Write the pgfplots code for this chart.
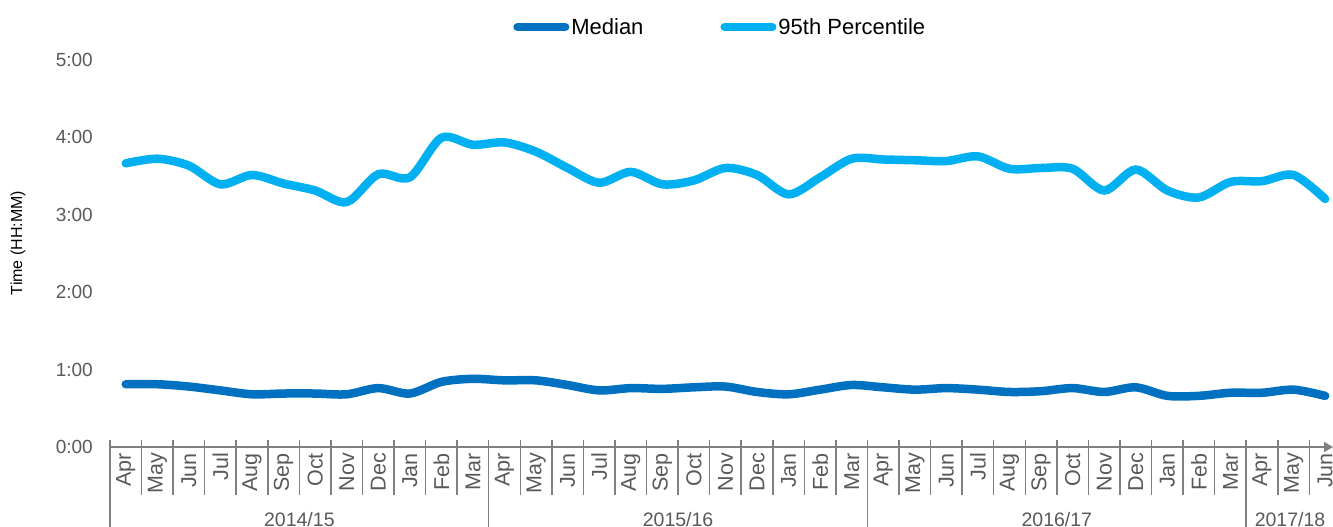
\documentclass[border=0pt]{standalone}
\usepackage{pgfplots}
\pgfplotsset{compat=1.18}
\usepackage{pgfplotstable}
\usepackage{fontspec}
\setmainfont{Liberation Sans}
\usetikzlibrary{arrows.meta}
\definecolor{medblue}{RGB}{0,112,192}
\definecolor{pctblue}{RGB}{0,176,240}
\definecolor{axgray}{RGB}{128,128,128}
\definecolor{txtgray}{RGB}{89,89,89}

\pgfplotstableread{
x p95 med
0 3.66 0.81
1 3.72 0.81
2 3.63 0.78
3 3.39 0.73
4 3.51 0.68
5 3.40 0.69
6 3.31 0.69
7 3.16 0.68
8 3.52 0.76
9 3.48 0.69
10 3.99 0.84
11 3.90 0.88
12 3.93 0.86
13 3.81 0.86
14 3.60 0.80
15 3.41 0.73
16 3.55 0.76
17 3.39 0.75
18 3.44 0.77
19 3.60 0.78
20 3.51 0.71
21 3.26 0.68
22 3.48 0.74
23 3.72 0.80
24 3.71 0.77
25 3.70 0.74
26 3.69 0.76
27 3.75 0.74
28 3.59 0.71
29 3.60 0.72
30 3.59 0.76
31 3.31 0.71
32 3.58 0.77
33 3.31 0.66
34 3.22 0.66
35 3.42 0.70
36 3.43 0.70
37 3.51 0.74
38 3.20 0.66
}\datatable

\begin{document}
\begin{tikzpicture}
\path[use as bounding box] (-110bp,-80bp) rectangle (1223bp,447bp);
\begin{axis}[
  at={(0,0)}, anchor=south west,
  scale only axis, width=1223bp, height=387.5bp,
  xmin=-0.5, xmax=38.25, ymin=0, ymax=5,
  clip=false,
  axis x line*=bottom, axis y line*=left,
  axis line style={draw=none},
  major tick length=0pt,
  xtick={0,...,38},
  xticklabels={Apr,May,Jun,Jul,Aug,Sep,Oct,Nov,Dec,Jan,Feb,Mar,Apr,May,Jun,Jul,Aug,Sep,Oct,Nov,Dec,Jan,Feb,Mar,Apr,May,Jun,Jul,Aug,Sep,Oct,Nov,Dec,Jan,Feb,Mar,Apr,May,Jun},
  xticklabel style={rotate=90, anchor=east, text=txtgray, font=\fontsize{21.5bp}{24bp}\selectfont, inner sep=0pt},
  xticklabel shift=6bp,
  ytick={0,1,2,3,4,5},
  yticklabels={0:00,1:00,2:00,3:00,4:00,5:00},
  yticklabel style={anchor=east, text=txtgray, font=\fontsize{19bp}{22bp}\selectfont, inner sep=0pt, xshift=-17bp},
  legend style={at={(0.499,1.084)}, anchor=center, draw=none, fill=none,
    font=\fontsize{22bp}{26bp}\selectfont, text=black,
    /tikz/every even column/.append style={column sep=75bp}},
  legend columns=2,
  legend image code/.code={\draw[#1, line width=8bp, line cap=round] (0bp,0bp) -- (48bp,0bp);},
]
\addplot[medblue, line width=8.5bp, line cap=round, smooth, tension=0.5] table[x=x, y=med]{\datatable};
\addlegendentry{Median}
\addplot[pctblue, line width=8.5bp, line cap=round, smooth, tension=0.5] table[x=x, y=p95]{\datatable};
\addlegendentry{95th Percentile}
\end{axis}
% x axis line, separators
\draw[axgray, line width=1.5bp, -{Triangle[length=9bp,width=10bp]}] (0,0) -- (1223bp,0);
\foreach \i in {0,...,38} {
  \draw[axgray, line width=1.5bp] (\i*31.561bp, 7bp) -- (\i*31.561bp, -48bp);
}
\foreach \i in {0,12,24,36} {
  \draw[axgray, line width=1.5bp] (\i*31.561bp, -48bp) -- (\i*31.561bp, -80bp);
}
\node[text=txtgray, font=\fontsize{19.5bp}{22bp}\selectfont] at (6*31.561bp, -73bp) {2014/15};
\node[text=txtgray, font=\fontsize{19.5bp}{22bp}\selectfont] at (18*31.561bp, -73bp) {2015/16};
\node[text=txtgray, font=\fontsize{19.5bp}{22bp}\selectfont] at (30*31.561bp, -73bp) {2016/17};
\node[text=txtgray, font=\fontsize{19.5bp}{22bp}\selectfont] at (1180bp, -73bp) {2017/18};
\node[rotate=90, text=black, font=\fontsize{16bp}{18bp}\selectfont] at (-92bp, 204bp) {Time (HH:MM)};
\end{tikzpicture}
\end{document}
